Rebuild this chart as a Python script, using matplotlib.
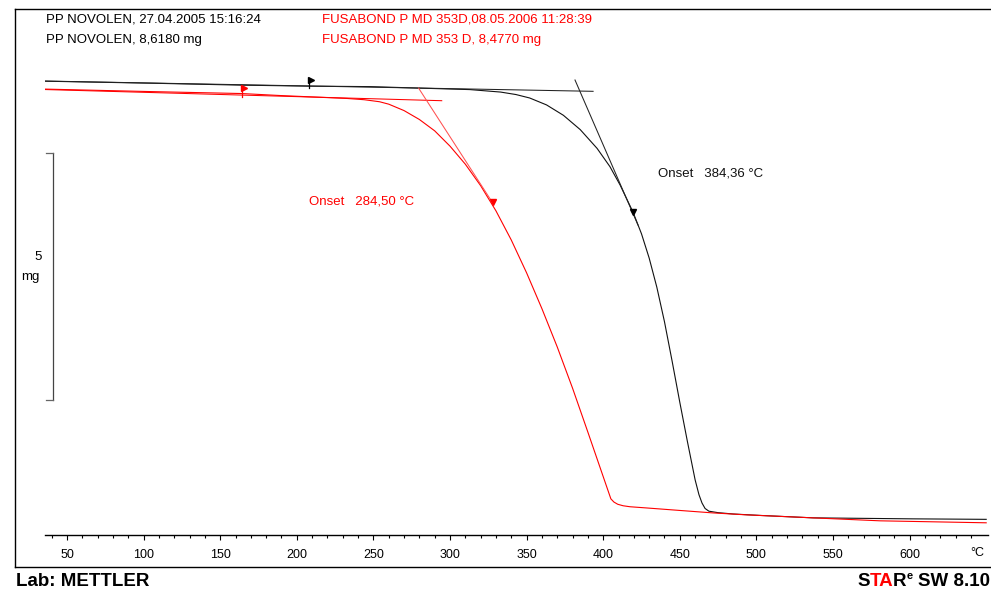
import numpy as np
import matplotlib
matplotlib.use('Agg')
import matplotlib.pyplot as plt
from matplotlib.lines import Line2D
from matplotlib.ticker import FixedLocator

plt.rcParams['font.family'] = ['Liberation Sans', 'DejaVu Sans']

# PP NOVOLEN (black) : temperature [°C] / mass [mg]
t_pp = [35.6, 104, 164, 208, 248, 280, 313, 333, 343, 352, 363, 374, 385, 396,
        404.4, 411, 419.45, 425, 430, 435, 440, 445, 450, 455, 460, 462.5,
        464.5, 466.5, 469, 475, 485, 502, 537, 602, 650]
m_pp = [8.62, 8.58, 8.54, 8.52, 8.51, 8.48, 8.45, 8.40, 8.35, 8.28, 8.14, 7.93,
        7.64, 7.26, 6.89, 6.52, 5.97, 5.53, 5.04, 4.45, 3.75, 2.95, 2.12, 1.32,
        0.55, 0.25, 0.08, -0.03, -0.085, -0.115, -0.142, -0.17, -0.22, -0.24,
        -0.25]

# FUSABOND P MD 353D (red)
t_fb = [35.6, 104, 164, 189, 233, 244, 254, 260, 270, 280, 290, 300, 310, 320,
        330, 340, 350, 360, 370, 380, 390, 400, 405, 407, 409.5, 413, 417.5,
        428.6, 450, 471.7, 494, 537, 580.7, 650]
m_fb = [8.46, 8.41, 8.37, 8.33, 8.27, 8.245, 8.204, 8.155, 8.025, 7.845, 7.615,
        7.305, 6.94, 6.505, 5.995, 5.405, 4.74, 4.015, 3.24, 2.405, 1.515, 0.615,
        0.165, 0.10, 0.055, 0.025, 0.005, -0.02, -0.07, -0.12, -0.16, -0.22,
        -0.28, -0.32]

# evaluation lines (baseline / tangent end points)
pp_base_t = [35.6, 393.4]
pp_base_m = [8.623, 8.415]
pp_tan_t = [381.6, 422.7]
pp_tan_m = [8.644, 5.709]
fb_base_t = [35.6, 294.6]
fb_base_m = [8.451, 8.225]
fb_tan_t = [279.5, 328.0]
fb_tan_m = [8.48, 6.15]

onset_pp = '384,36'
onset_fb = '284,50'

W, H = 991, 595
RED = '#ff0000'
fig = plt.figure(figsize=(W / 100, H / 100), dpi=100)
fig.patch.set_facecolor('white')

def fx(x):
    return x / W

def fy(y):
    return 1 - y / H

def tx(xpx):
    # pixel column -> temperature
    return (xpx + 9.6) / 1.532

# axes: x from px 45 to 988, y from px 60 (top) to 535 (bottom)
ax = fig.add_axes([fx(45), fy(535), fx(988) - fx(45), fy(60) - fy(535)])
ax.set_xlim(tx(45), tx(988))
ax.set_ylim(-0.567, 9.049)
for s in ['left', 'right', 'top']:
    ax.spines[s].set_visible(False)
ax.spines['bottom'].set_linewidth(1.0)
ax.set_yticks([])
ax.xaxis.set_major_locator(FixedLocator(np.arange(50, 601, 50)))
ax.xaxis.set_minor_locator(FixedLocator(np.arange(40, 641, 10)))
ax.tick_params(axis='x', which='major', direction='out', length=3.8, width=0.8,
               labelsize=9, pad=6, colors='black')
ax.tick_params(axis='x', which='minor', direction='out', length=2.0, width=0.8)
fig.text(fx(977), fy(553), '°C', fontsize=9, ha='center', va='center')

# curves
ax.plot(t_pp, m_pp, color='#111111', lw=0.8)
ax.plot(t_fb, m_fb, color=RED, lw=0.8)
ax.plot(pp_base_t, pp_base_m, color='#222222', lw=0.75)
ax.plot(pp_tan_t, pp_tan_m, color='#222222', lw=0.75)
ax.plot(fb_base_t, fb_base_m, color=RED, lw=0.75)
ax.plot(fb_tan_t, fb_tan_m, color='#ff5050', lw=0.75)

# limit flags
ax.plot([208, 208], [8.48, 8.68], color='black', lw=0.9)
ax.plot([209.3], [8.645], marker='>', ms=4, color='black', mec='black', lw=0)
ax.plot([164.2, 164.2], [8.30, 8.52], color=RED, lw=0.9)
ax.plot([165.5], [8.49], marker='>', ms=4, color=RED, mec=RED, lw=0)

# arrow heads on the tangents
ax.plot([419.5], [5.97], marker='v', ms=4, color='black', lw=0)
ax.plot([328.0], [6.17], marker='v', ms=4, color=RED, lw=0)

ax.text(tx(658), 6.76, 'Onset   %s °C' % onset_pp, fontsize=9.5, color='#111111',
        va='center', ha='left')
ax.text(tx(309), 6.19, 'Onset   %s °C' % onset_fb, fontsize=9.5, color=RED,
        va='center', ha='left')

# scale bar 5 mg
bar_top = 8.623 - (153 - 81) / 49.4
ax.plot([tx(53), tx(53)], [bar_top, bar_top - 5], color='#444444', lw=0.9,
        clip_on=False)
for yy in [bar_top, bar_top - 5]:
    ax.plot([tx(46), tx(53)], [yy, yy], color='#666666', lw=0.9, clip_on=False)
fig.text(fx(42), fy(257), '5', fontsize=9.5, ha='right', va='center')
fig.text(fx(40), fy(277), 'mg', fontsize=9.5, ha='right', va='center')

# frame
fig.add_artist(Line2D([fx(15), fx(15)], [fy(9), fy(567)], color='black', lw=1.0))
fig.add_artist(Line2D([fx(15), fx(991)], [fy(9), fy(9)], color='black', lw=1.0))
fig.add_artist(Line2D([fx(15), fx(991)], [fy(567), fy(567)], color='black', lw=1.0))

# header
fig.text(fx(46), fy(20), 'PP NOVOLEN, 27.04.2005 15:16:24', fontsize=9.5, va='center')
fig.text(fx(46), fy(40), 'PP NOVOLEN, 8,6180 mg', fontsize=9.5, va='center')
fig.text(fx(322), fy(20), 'FUSABOND P MD 353D,08.05.2006 11:28:39', fontsize=9.5,
         va='center', color=RED)
fig.text(fx(322), fy(40), 'FUSABOND P MD 353 D, 8,4770 mg', fontsize=9.5,
         va='center', color=RED)

# footer
FS = 13.5
fig.text(fx(16), fy(581), 'Lab: METTLER', fontsize=FS, fontweight='bold',
         va='center')
prev = fig.text(fx(990), fy(581), 'SW 8.10', fontsize=FS, fontweight='bold',
                va='center', ha='right')
# logo pieces chained right to left
for txt, col, dy, fs in [(' ', 'black', 0, FS), ('e', 'black', 6, 8),
                         ('R', 'black', -6, FS), ('TA', RED, 0, FS),
                         ('S', 'black', 0, FS)]:
    prev = plt.annotate(txt, xy=(0, 0), xycoords=prev, xytext=(0, dy),
                        textcoords='offset points', ha='right', va='bottom',
                        fontsize=fs, fontweight='bold', color=col,
                        annotation_clip=False)

fig.savefig('out.png', dpi=100, facecolor='white')
